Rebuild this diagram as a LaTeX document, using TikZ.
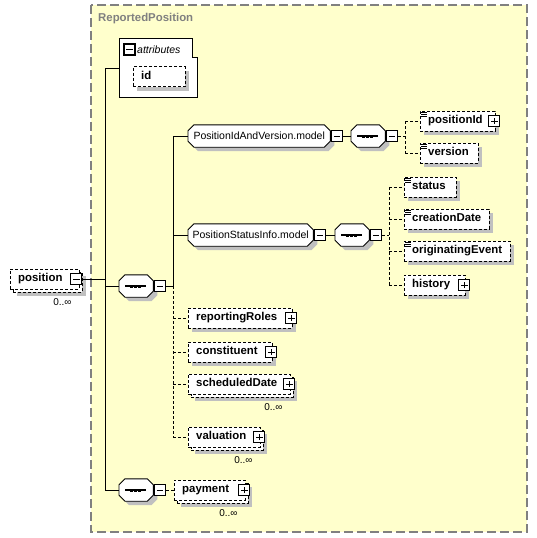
\documentclass[tikz,border=0pt]{standalone}
\usepackage{fontspec}
\setmainfont{Liberation Sans}
\usetikzlibrary{shadows}
\usetikzlibrary{positioning}
\usetikzlibrary{calc}
\definecolor{schemabg}{HTML}{FFFFCC}
\definecolor{shadowgray}{HTML}{C0C0C0}
\definecolor{framegray}{HTML}{808080}
\tikzstyle{elembase}=[draw,dash pattern=on 3pt off 2pt,fill=white,anchor=west,minimum height=20pt,inner xsep=8pt,inner ysep=0pt,text height=8pt,text depth=2.5pt,align=left,font=\bfseries\fontsize{11.4}{13}\selectfont]
\tikzstyle{element}=[elembase,drop shadow={shadow xshift=4pt,shadow yshift=-4pt,fill=shadowgray,opacity=1}]
\tikzstyle{multielement}=[elembase,drop shadow={shadow xshift=7pt,shadow yshift=-7pt,fill=shadowgray,opacity=1},copy shadow={shadow xshift=3pt,shadow yshift=-3pt,draw=black,fill=white,dash pattern=on 3pt off 2pt,opacity=1}]
\tikzstyle{groupbox}=[rectangle,anchor=west,minimum height=22pt,inner sep=0pt]
\tikzstyle{groupoutline}=[draw,fill=white,line width=0.9pt,drop shadow={shadow xshift=4pt,shadow yshift=-4pt,fill=shadowgray,opacity=1}]
\tikzstyle{grouplabel}=[inner sep=0pt,font=\fontsize{10.5}{12}\selectfont]
\tikzstyle{minusbox}=[draw,solid,fill=white,line width=1.1pt,minimum size=11pt,inner sep=0pt,path picture={\draw[line width=0.9pt] ([xshift=-3.2pt]path picture bounding box.center) -- ([xshift=3.2pt]path picture bounding box.center);}]
\tikzstyle{plusbox}=[minusbox,path picture={\draw[line width=0.9pt] ([xshift=-3.2pt]path picture bounding box.center) -- ([xshift=3.2pt]path picture bounding box.center) ([yshift=-3.2pt]path picture bounding box.center) -- ([yshift=3.2pt]path picture bounding box.center);}]
\tikzstyle{occurs}=[inner sep=0pt,font=\fontsize{10}{12}\selectfont]
\tikzstyle{link}=[draw,line width=0.9pt]
\tikzstyle{optlink}=[draw,line width=0.9pt,dash pattern=on 3pt off 2pt]
\tikzstyle{icon}=[draw,line width=0.7pt]

\begin{document}
\begin{tikzpicture}[x=1pt,y=-1pt]
  \useasboundingbox (0,0) rectangle (537,538);
  \fill[white] (0,0) rectangle (537,538);

  % complex type frame
  \draw[fill=schemabg,draw=framegray,line width=1.2pt,dash pattern=on 9pt off 4pt] (91,5) rectangle (527,532);
  \node[anchor=west,inner sep=0pt,text=framegray,font=\bfseries\fontsize{11.4}{13}\selectfont] (title) at (98,19) {ReportedPosition};

  % attributes
  \draw[fill=white,line width=0.9pt] (119,38) -- (192,38) -- (192,57) -- (197,57) -- (197,97) -- (119,97) -- cycle;
  \node[minusbox] (attr-minus) at (129.5,49.5) {};
  \node[anchor=west,inner sep=0pt,font=\itshape\fontsize{10.5}{12}\selectfont] (attrlabel) at (137,49.5) {attributes};
  \node[element,text width=36pt] (id) at (133,76.5) {id};
  \coordinate (attrin) at (119,68);

  \foreach \pos/\name/\label/\tw in {(420,121)/positionId/positionId/59pt, (420,153)/version/version/42pt, (404,187)/status/status/36pt, (404,219)/creationDate/creationDate/69pt, (404,251)/originatingEvent/originatingEvent/90pt, (404,285)/history/history/45pt, (188,318)/reportingRoles/reportingRoles/88pt, (188,352)/constituent/constituent/68pt}
    \node[element,text width=\tw] (\name) at \pos {\label};

  \foreach \pos/\name/\label/\tw in {(10,279)/position/position/53pt, (188,384)/scheduledDate/scheduledDate/86pt, (188,437)/valuation/valuation/56pt, (174,490)/payment/payment/55pt}
    \node[multielement,text width=\tw] (\name) at \pos {\label};

  % model groups and sequences
  \foreach \pos/\name/\gw in {(188,136)/idversion/142pt, (188,235)/statusinfo/125pt, (119,286)/seqroot/34pt, (351,136)/seqidversion/34pt, (335,235)/seqstatus/34pt, (119,490)/seqpayment/34pt}
  {
    \node[groupbox,minimum width=\gw] (\name) at \pos {};
    \path[groupoutline] ([xshift=6pt]\name.north west) -- ([xshift=-6pt]\name.north east) -- ([yshift=-6pt]\name.north east) -- ([yshift=6pt]\name.south east) -- ([xshift=-6pt]\name.south east) -- ([xshift=6pt]\name.south west) -- ([yshift=6pt]\name.south west) -- ([yshift=-6pt]\name.north west) -- cycle;
  }
  \node[grouplabel] (idversion-label) at (idversion.center) {PositionIdAndVersion.model};
  \node[grouplabel] (statusinfo-label) at (statusinfo.center) {PositionStatusInfo.model};
  \foreach \name in {seqroot, seqidversion, seqstatus, seqpayment}
  {
    \draw[line width=1.2pt] ([xshift=6pt]\name.west) -- ([xshift=-7pt]\name.east);
    \foreach \dx in {-4.5,-0.5,3.5}
      \fill ([xshift=\dx pt]\name.center) +(-1.5,-1.5) rectangle +(1.5,1.5);
  }

  \foreach \name in {idversion, statusinfo, seqroot, seqidversion, seqstatus, seqpayment}
    \node[minusbox,anchor=west] (\name-minus) at ([xshift=0.5pt]\name.east) {};
  \node[minusbox] (position-minus) at ([xshift=-3pt]position.east) {};

  \foreach \name in {positionId, history, reportingRoles, constituent, scheduledDate, valuation, payment}
    \node[plusbox] (\name-plus) at ([xshift=-1pt]\name.east) {};

  \foreach \name in {positionId, version, status, creationDate, originatingEvent}
    \foreach \dy in {1.5,3.5,5.5}
      \draw[icon] ([xshift=1pt,yshift=-\dy pt]\name.north west) -- ++(6,0);

  \foreach \name in {position, scheduledDate, valuation, payment}
    \node[occurs] (\name-occurs) at ($(\name.south east)+(-17,13)$) {0..∞};

  % Connect nodes
  \coordinate (rootbus) at (105,0);
  \coordinate (seqbus) at (173,0);
  \coordinate (idbus) at (405,0);
  \coordinate (statusbus) at (389,0);

  \path[link] (position-minus.east) -- (rootbus |- position.east);
  \path[link] (rootbus |- attrin) -- (attrin);
  \path[link] (rootbus |- attrin) -- (rootbus |- seqpayment.west) -- (seqpayment.west);
  \path[link] (rootbus |- seqroot.west) -- (seqroot.west);

  \path[link] (seqroot-minus.east) -- (seqbus |- seqroot.east);
  \path[link] (seqbus |- idversion.west) -- (seqbus |- seqroot.east);
  \foreach \dest in {idversion, statusinfo}
    \path[link] (seqbus |- \dest.west) -- (\dest.west);
  \path[optlink] (seqbus |- seqroot.east) -- (seqbus |- valuation.west);
  \foreach \dest in {reportingRoles, constituent, scheduledDate, valuation}
    \path[optlink] (seqbus |- \dest.west) -- (\dest.west);

  \path[link] (idversion-minus.east) -- (seqidversion.west);
  \path[optlink] (seqidversion-minus.east) -- (idbus |- seqidversion.east);
  \path[optlink] (idbus |- positionId.west) -- (idbus |- version.west);
  \foreach \dest in {positionId, version}
    \path[optlink] (idbus |- \dest.west) -- (\dest.west);

  \path[link] (statusinfo-minus.east) -- (seqstatus.west);
  \path[optlink] (seqstatus-minus.east) -- (statusbus |- seqstatus.east);
  \path[optlink] (statusbus |- status.west) -- (statusbus |- history.west);
  \foreach \dest in {status, creationDate, originatingEvent, history}
    \path[optlink] (statusbus |- \dest.west) -- (\dest.west);

  \path[optlink] (seqpayment-minus.east) -- (payment.west);
\end{tikzpicture}
\end{document}
